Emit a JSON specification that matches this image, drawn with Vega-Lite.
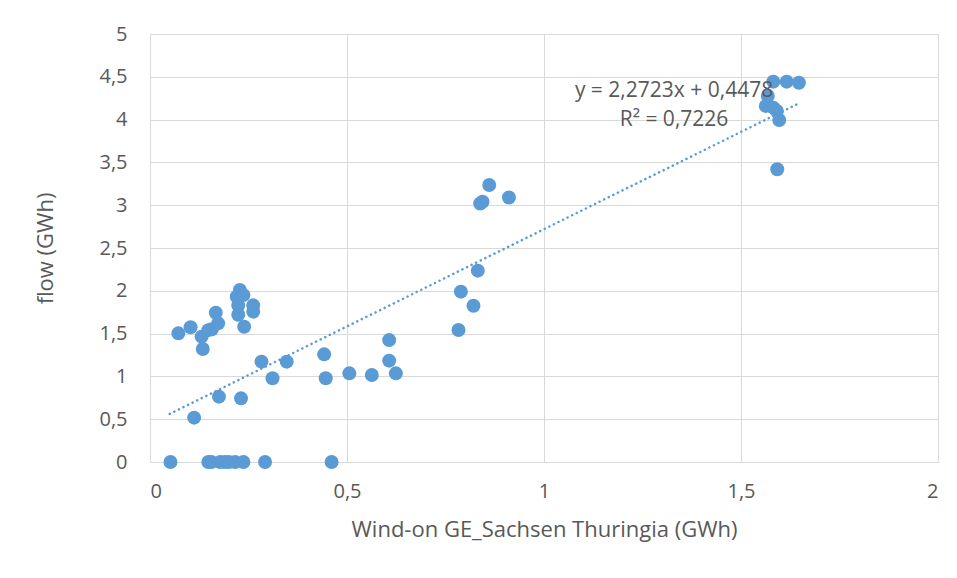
{
  "$schema": "https://vega.github.io/schema/vega-lite/v6.json",
  "width": 788,
  "height": 428,
  "autosize": "none",
  "padding": {"left": 150, "top": 34, "right": 19, "bottom": 116},
  "background": "white",
  "config": {
    "view": {"stroke": null},
    "font": "Open Sans",
    "axis": {
      "labelColor": "#595959",
      "titleColor": "#595959",
      "labelFontSize": 20,
      "titleFontSize": 22,
      "titleFontWeight": "normal",
      "labelFont": "Open Sans",
      "titleFont": "Open Sans",
      "gridColor": "#d9d9d9",
      "domainColor": "#d9d9d9",
      "ticks": false
    }
  },
  "datasets": {
    "pts": [
      {"x": 0.052, "y": 0}, {"x": 0.148, "y": 0}, {"x": 0.156, "y": 0}, {"x": 0.178, "y": 0},
      {"x": 0.19, "y": 0}, {"x": 0.2, "y": 0}, {"x": 0.216, "y": 0}, {"x": 0.237, "y": 0},
      {"x": 0.292, "y": 0}, {"x": 0.461, "y": 0},
      {"x": 0.072, "y": 1.503}, {"x": 0.103, "y": 1.574}, {"x": 0.131, "y": 1.464},
      {"x": 0.134, "y": 1.32}, {"x": 0.148, "y": 1.54}, {"x": 0.157, "y": 1.55},
      {"x": 0.167, "y": 1.744}, {"x": 0.173, "y": 1.62},
      {"x": 0.228, "y": 2.01}, {"x": 0.22, "y": 1.93}, {"x": 0.237, "y": 1.95},
      {"x": 0.224, "y": 1.83}, {"x": 0.224, "y": 1.72}, {"x": 0.262, "y": 1.83},
      {"x": 0.262, "y": 1.756}, {"x": 0.239, "y": 1.58},
      {"x": 0.175, "y": 0.763}, {"x": 0.112, "y": 0.518}, {"x": 0.231, "y": 0.744},
      {"x": 0.283, "y": 1.172}, {"x": 0.311, "y": 0.978}, {"x": 0.347, "y": 1.172},
      {"x": 0.442, "y": 1.258}, {"x": 0.446, "y": 0.978}, {"x": 0.506, "y": 1.036},
      {"x": 0.563, "y": 1.016}, {"x": 0.624, "y": 1.036}, {"x": 0.607, "y": 1.184},
      {"x": 0.607, "y": 1.424},
      {"x": 0.861, "y": 3.236}, {"x": 0.838, "y": 3.02}, {"x": 0.844, "y": 3.04},
      {"x": 0.911, "y": 3.09}, {"x": 0.832, "y": 2.235}, {"x": 0.789, "y": 1.99},
      {"x": 0.821, "y": 1.826}, {"x": 0.783, "y": 1.542},
      {"x": 1.582, "y": 4.443}, {"x": 1.616, "y": 4.443}, {"x": 1.647, "y": 4.43},
      {"x": 1.568, "y": 4.276}, {"x": 1.563, "y": 4.16}, {"x": 1.582, "y": 4.14},
      {"x": 1.591, "y": 4.1}, {"x": 1.597, "y": 3.995}, {"x": 1.592, "y": 3.42}
    ],
    "trend": [
      {"x": 0.05, "y": 0.5614},
      {"x": 1.647, "y": 4.1902}
    ],
    "labels": [
      {"x": 1.33, "y": 4.334, "t": "y = 2,2723x + 0,4478"},
      {"x": 1.33, "y": 3.995, "t": "R² = 0,7226"}
    ]
  },
  "layer": [
    {
      "data": {"name": "pts"},
      "mark": {"type": "circle", "size": 195, "color": "#5b9bd5", "opacity": 1},
      "encoding": {
        "x": {
          "field": "x", "type": "quantitative",
          "scale": {"domain": [0, 2], "nice": false, "zero": false},
          "axis": {
            "values": [0, 0.5, 1, 1.5, 2],
            "title": "Wind-on GE_Sachsen Thuringia (GWh)",
            "labelExpr": "replace(toString(datum.value), '.', ',')",
            "labelPadding": 19,
            "titlePadding": 18
          }
        },
        "y": {
          "field": "y", "type": "quantitative",
          "scale": {"domain": [0, 5], "nice": false},
          "axis": {
            "values": [0, 0.5, 1, 1.5, 2, 2.5, 3, 3.5, 4, 4.5, 5],
            "title": "flow (GWh)",
            "labelExpr": "replace(toString(datum.value), '.', ',')",
            "labelPadding": 23,
            "titlePadding": 41
          }
        }
      }
    },
    {
      "data": {"name": "trend"},
      "mark": {"type": "line", "color": "#5b9bd5", "strokeWidth": 2.5, "strokeDash": [0.1, 5], "strokeCap": "round"},
      "encoding": {
        "x": {"field": "x", "type": "quantitative"},
        "y": {"field": "y", "type": "quantitative"}
      }
    },
    {
      "data": {"name": "labels"},
      "mark": {"type": "text", "fontSize": 21, "color": "#595959", "font": "Open Sans", "align": "center", "baseline": "middle"},
      "encoding": {
        "x": {"field": "x", "type": "quantitative"},
        "y": {"field": "y", "type": "quantitative"},
        "text": {"field": "t"}
      }
    }
  ]
}
